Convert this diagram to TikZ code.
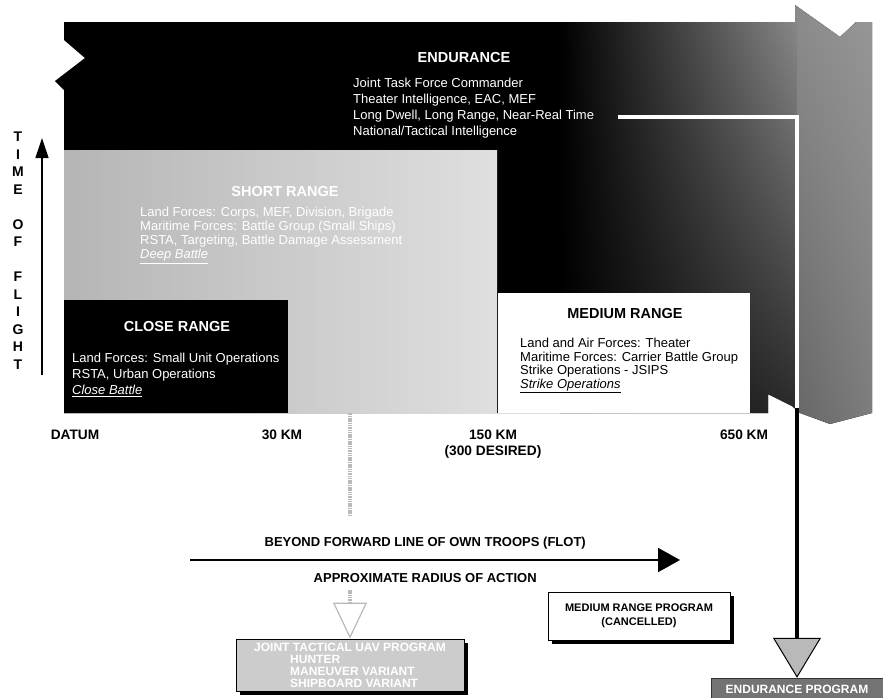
\documentclass[tikz,border=0pt]{standalone}
\usepackage{fontspec}
\setmainfont{Liberation Sans}
\usetikzlibrary{positioning, arrows.meta, shadings, shadows}
\newcommand{\fsz}[2]{\fontsize{#1}{#2}\selectfont}

\begin{document}
\begin{tikzpicture}[x=1pt, y=-1pt,
    hd/.style={font=\bfseries\fsz{14.5}{17}, inner sep=0pt},
    body/.style={font=\fsz{13}{16}, align=left, inner sep=0pt, anchor=north west},
    axlbl/.style={font=\bfseries\fsz{13.7}{16}, inner sep=0pt, align=center},
    region/.style={inner sep=0pt, anchor=north west},
    prog/.style={draw=black, font=\bfseries\fsz{11}{13.5}, align=center, inner sep=3pt,
                 drop shadow={shadow xshift=4pt, shadow yshift=-4pt, fill=black, opacity=1}},
    stip/.style={draw=gray!55, line width=4pt, dash pattern=on 1.5pt off 0.8pt},
    arr/.style={line width=2pt, -{Triangle[length=22pt, width=24pt]}}
]
  \useasboundingbox (0,0) rectangle (883,697);

  % endurance banner
  \begin{scope}
    \clip (64,22) -- (795,22) -- (795,5) -- (840,37) -- (856,22) -- (872,22)
      -- (872,413) -- (830,424) -- (800,413) -- (792,406) -- (768,394) -- (768,413)
      -- (64,413) -- (64,90) -- (55,81) -- (85,58) -- (64,40) -- cycle;
    \fill[black] (0,0) rectangle (883,430);
    \shade[upper left=black, upper right=black!45, lower left=black, lower right=black!85]
      (560,0) rectangle (797,430);
    \shade[upper left=black!45, upper right=black!40, lower left=black!60, lower right=black!50]
      (797,0) rectangle (883,430);
  \end{scope}

  % range boxes
  \node[region, minimum width=433, minimum height=263, left color=gray!58, right color=gray!25] (shortr) at (64,150) {};
  \node[region, fill=black, minimum width=224, minimum height=113] (closer) at (64,300) {};
  \node[region, fill=white, minimum width=252, minimum height=120] (medr) at (498,293) {};

  \node[hd, white] (endhd) at (464,58) {ENDURANCE};
  \node[body, white] (endtxt) at (353,78) {Joint Task Force Commander\\Theater Intelligence, EAC, MEF\\Long Dwell, Long Range, Near-Real Time\\National/Tactical Intelligence};

  \node[hd, white] (srhd) at (285,192) {SHORT RANGE};
  \node[body, white, font=\fsz{13}{14}] (srtxt) at (140,207) {Land Forces: Corps, MEF, Division, Brigade\\Maritime Forces: Battle Group (Small Ships)\\RSTA, Targeting, Battle Damage Assessment\\\underline{\textit{Deep Battle}}};

  \node[hd, white] (clhd) at (177,327) {CLOSE RANGE};
  \node[body, white] (cltxt) at (72,353) {Land Forces: Small Unit Operations\\RSTA, Urban Operations\\\underline{\textit{Close Battle}}};

  \node[hd] (mdhd) at (625,313) {MEDIUM RANGE};
  \node[body, font=\fsz{13}{13.5}] (mdtxt) at (520,338) {Land and Air Forces: Theater\\Maritime Forces: Carrier Battle Group\\Strike Operations - JSIPS\\\underline{\textit{Strike Operations}}};

  % time of flight
  \node[font=\bfseries\fsz{14}{17.5}, align=center, inner sep=0pt] (tof) at (18,250.5) {T\\I\\M\\E\\[17.5pt]O\\F\\[17.5pt]F\\L\\I\\G\\H\\T};
  \coordinate (tofbot) at (42,375);
  \coordinate (toftop) at (42,138);
  \draw[line width=1.3pt, -{Triangle[length=20pt, width=13pt]}] (tofbot) -- (toftop);

  % range axis
  \node[axlbl] (datum) at (75,435) {DATUM};
  \node[axlbl] (km30) at (282,435) {30 KM};
  \node[axlbl, anchor=north] (km150) at (493,430) {150 KM\\(300 DESIRED)};
  \node[axlbl] (km650) at (744,435) {650 KM};

  \coordinate (flotL) at (190,560);
  \coordinate (flotR) at (680,560);
  \draw[arr] (flotL) -- (flotR)
    node[pos=0.48, above=10pt, axlbl, font=\bfseries\fsz{13}{15}] (beyond) {BEYOND FORWARD LINE OF OWN TROOPS (FLOT)}
    node[pos=0.48, below=12pt, axlbl, font=\bfseries\fsz{13}{15}] (approx) {APPROXIMATE RADIUS OF ACTION};

  % programs
  \node[prog, fill=gray!40, text=white, minimum width=228, align=left, inner sep=4pt, font=\bfseries\fsz{12}{12}] (uav) at (350,665)
    {JOINT TACTICAL UAV PROGRAM\\\hspace*{3em}HUNTER\\\hspace*{3em}MANEUVER VARIANT\\\hspace*{3em}SHIPBOARD VARIANT};
  \node[prog, fill=white, minimum width=182, minimum height=48] (medprog) at (639,616) {MEDIUM RANGE PROGRAM\\(CANCELLED)};
  \node[fill=black!55, draw=black!80, text=white, font=\bfseries\fsz{12}{14}, minimum width=172, minimum height=22, inner sep=2pt] (endprog) at (797,689) {ENDURANCE PROGRAM};

  % connectors
  \coordinate (gapA) at (350,515);
  \coordinate (gapB) at (350,590);
  \draw[stip] (uav.north |- shortr.south) -- (gapA);
  \draw[stip, -{Triangle[open, length=36pt, width=34pt, line width=1.2pt]}] (gapB) -- (uav.north);

  \coordinate (wa) at (618,117);
  \coordinate (lineY) at (0,408);
  \coordinate (wb) at (endprog.north |- wa);
  \coordinate (wc) at (endprog.north |- lineY);
  \draw[white, line width=4pt] (wa) -- (wb) -- (wc);
  \draw[line width=4pt, -{Triangle[length=40pt, width=48pt, fill=gray!55, line width=1pt]}] (wc) -- (endprog.north);
\end{tikzpicture}
\end{document}
